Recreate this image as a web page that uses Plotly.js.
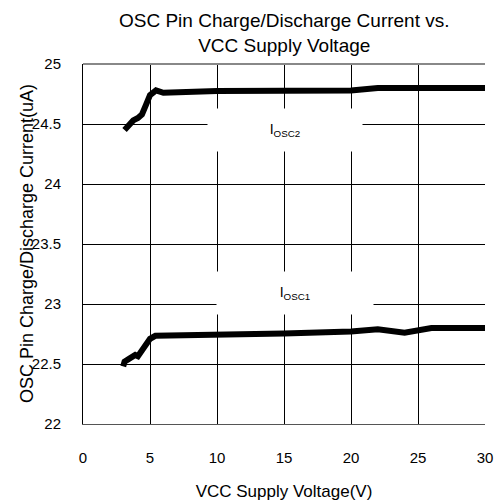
<!DOCTYPE html>
<html>
<head>
<meta charset="utf-8">
<script src="https://cdn.plot.ly/plotly-3.0.1.min.js"></script>
<style>html,body{margin:0;padding:0;background:#fff;}#chart{width:502px;height:504px;}</style>
</head>
<body>
<div id="chart"></div>
<script>
const osc2Voltage = [3.1, 3.4, 3.75, 4.1, 4.4, 4.7, 5.0, 5.45, 6.0, 10, 15, 20, 22, 26, 30];
const osc2Current = [24.45, 24.49, 24.53, 24.55, 24.58, 24.66, 24.74, 24.78, 24.76, 24.775, 24.78, 24.78, 24.8, 24.8, 24.8];
const osc1Voltage = [3.0, 3.1, 3.4, 3.7, 3.9, 4.1, 4.5, 5.0, 5.4, 10, 15, 20, 22, 24, 26, 30];
const osc1Current = [22.48, 22.52, 22.54, 22.56, 22.575, 22.565, 22.64, 22.71, 22.735, 22.75, 22.755, 22.77, 22.79, 22.76, 22.8, 22.8];
const yTicks = [22, 22.5, 23, 23.5, 24, 24.5, 25];
const yTickLabels = ['22', '22.5', '23', '23.5', '24', '24.5', '25'];
const xTicks = [0, 5, 10, 15, 20, 25, 30];
const xTickLabels = ['0', '5', '10', '15', '20', '25', '30'];
const chartTitle = 'OSC Pin Charge/Discharge Current vs.<br>VCC Supply Voltage';

const lineStyle = {color: '#000', width: 6, shape: 'linear'};
const data = [
  {x: osc2Voltage, y: osc2Current, mode: 'lines', line: lineStyle, showlegend: false, hoverinfo: 'skip'},
  {x: osc1Voltage, y: osc1Current, mode: 'lines', line: lineStyle, showlegend: false, hoverinfo: 'skip'}
];
const font = {family: 'Liberation Sans, Arial, sans-serif', color: '#000'};
const layout = {
  width: 502, height: 504,
  margin: {l: 83, r: 17, t: 64, b: 80},
  paper_bgcolor: '#fff', plot_bgcolor: '#fff',
  font: Object.assign({size: 13}, font),
  xaxis: {
    range: [0, 30], tickvals: xTicks, ticktext: xTickLabels,
    showgrid: true, gridcolor: '#000', gridwidth: 1,
    zeroline: false, showline: true, linecolor: '#555', linewidth: 1, mirror: false,
    ticks: '', ticklabelstandoff: 20, tickfont: Object.assign({size: 15}, font),
    title: {text: 'VCC Supply Voltage(V)', standoff: 20, font: Object.assign({size: 17}, font)},
    fixedrange: true
  },
  yaxis: {
    range: [22, 25], tickvals: yTicks, ticktext: yTickLabels,
    showgrid: true, gridcolor: '#000', gridwidth: 1,
    zeroline: false, showline: true, linecolor: '#000', linewidth: 1,
    ticks: '', ticklabelstandoff: 18, tickfont: Object.assign({size: 15}, font),
    fixedrange: true
  },
  shapes: [
    {type: 'line', xref: 'paper', yref: 'paper', x0: 0, x1: 1, y0: 1, y1: 1, line: {color: '#888', width: 2}}
  ],
  annotations: [
    {x: 0.5, y: 1, xref: 'paper', yref: 'paper', xanchor: 'center', yanchor: 'bottom', yshift: 6, text: chartTitle, showarrow: false, font: Object.assign({size: 19}, font)},
    {x: 15.1, y: 24.45, xref: 'x', yref: 'y', text: 'I<sub>OSC2</sub>', showarrow: false, bgcolor: '#fff', width: 152, height: 40, font: Object.assign({size: 14}, font)},
    {x: 15.8, y: 23.09, xref: 'x', yref: 'y', text: 'I<sub>OSC1</sub>', showarrow: false, bgcolor: '#fff', width: 154, height: 40, font: Object.assign({size: 14}, font)},
    {x: -0.139, y: 0.5, xref: 'paper', yref: 'paper', xanchor: 'center', yanchor: 'middle', textangle: -90, text: 'OSC Pin Charge/Discharge Current(uA)', showarrow: false, font: Object.assign({size: 18}, font)}
  ]
};
Plotly.newPlot('chart', data, layout, {staticPlot: true, displayModeBar: false});
</script>
</body>
</html>
